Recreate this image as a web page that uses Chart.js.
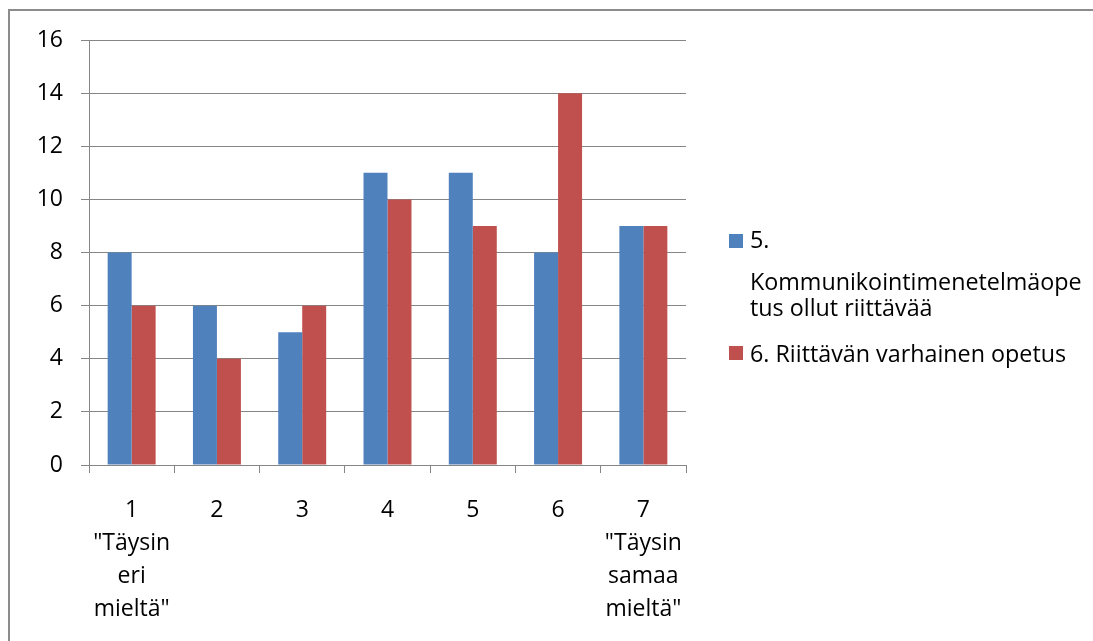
<!DOCTYPE html>
<html>
<head>
<meta charset="utf-8">
<script src="https://cdn.jsdelivr.net/npm/chart.js@4/dist/chart.umd.min.js"></script>
<style>
html,body{margin:0;padding:0;background:#fff;}
#wrap{width:1093px;height:641px;position:relative;}
</style>
</head>
<body>
<div id="wrap"><canvas id="c"></canvas></div>
<script>
const categories = [
  ['1', '"Täysin', 'eri', 'mieltä"'],
  ['2'], ['3'], ['4'], ['5'], ['6'],
  ['7', '"Täysin', 'samaa', 'mieltä"']
];
const series1Label = '5. Kommunikointimenetelmäopetus ollut riittävää';
const series2Label = '6. Riittävän varhainen opetus';
const series1Values = [8, 6, 5, 11, 11, 8, 9];
const series2Values = [6, 4, 6, 10, 9, 14, 9];
const legendLines1 = ['5.', 'Kommunikointimenetelmäope', 'tus ollut riittävää'];
const legendLines2 = ['6. Riittävän varhainen opetus'];
const yTickMin = 0, yTickMax = 16, yTickStep = 2;

const FONT = '"Open Sans", "Noto Sans", sans-serif';
const BLUE = '#4F81BD', RED = '#C0504D', GRID = '#868686';

const framePlugin = {
  id: 'frame',
  beforeDraw(chart) {
    const ctx = chart.ctx;
    ctx.save();
    ctx.fillStyle = '#fff';
    ctx.fillRect(0, 0, chart.width, chart.height);
    ctx.strokeStyle = '#8c8c8c';
    ctx.lineWidth = 2;
    ctx.strokeRect(9, 10, chart.width + 50, chart.height + 50);
    ctx.restore();
  }
};

const legendPlugin = {
  id: 'customLegend',
  afterDraw(chart) {
    const ctx = chart.ctx;
    ctx.save();
    ctx.font = '23.3px ' + FONT;
    ctx.fillStyle = '#000';
    ctx.textBaseline = 'middle';
    ctx.textAlign = 'left';
    const items = [
      { color: chart.data.datasets[0].backgroundColor, lines: legendLines1, ys: [241, 283, 309], sq: 234 },
      { color: chart.data.datasets[1].backgroundColor, lines: legendLines2, ys: [355], sq: 346 }
    ];
    items.forEach(it => {
      ctx.fillStyle = it.color;
      ctx.fillRect(729, it.sq, 14, 14);
      ctx.fillStyle = '#000';
      it.lines.forEach((l, i) => ctx.fillText(l, 750, it.ys[i]));
    });
    ctx.restore();
  }
};

new Chart(document.getElementById('c'), {
  type: 'bar',
  data: {
    labels: categories,
    datasets: [
      { label: series1Label, data: series1Values, backgroundColor: BLUE, borderWidth: 0,
        barPercentage: 1, categoryPercentage: 0.5625 },
      { label: series2Label, data: series2Values, backgroundColor: RED, borderWidth: 0,
        barPercentage: 1, categoryPercentage: 0.5625 }
    ]
  },
  options: {
    responsive: true,
    maintainAspectRatio: false,
    animation: false,
    layout: { padding: { left: 0, top: 40, right: 407, bottom: 0 } },
    plugins: { legend: { display: false }, tooltip: { enabled: false }, title: { display: false } },
    scales: {
      x: {
        offset: true,
        grid: { offset: true, drawOnChartArea: false, color: GRID, tickLength: 8, lineWidth: 1 },
        border: { color: GRID },
        ticks: { color: '#000', font: { family: FONT, size: 23, lineHeight: 1.43 }, padding: 21, maxRotation: 0, autoSkip: false },
        afterFit(s) { s.height = 641 - 465; }
      },
      y: {
        min: yTickMin, max: yTickMax,
        grid: { color: GRID, tickLength: 8, lineWidth: 1 },
        border: { color: GRID },
        ticks: { stepSize: yTickStep, color: '#000', font: { family: FONT, size: 23 }, padding: 18 },
        afterFit(s) { s.width = 89; }
      }
    }
  },
  plugins: [framePlugin, legendPlugin]
});
</script>
</body>
</html>
